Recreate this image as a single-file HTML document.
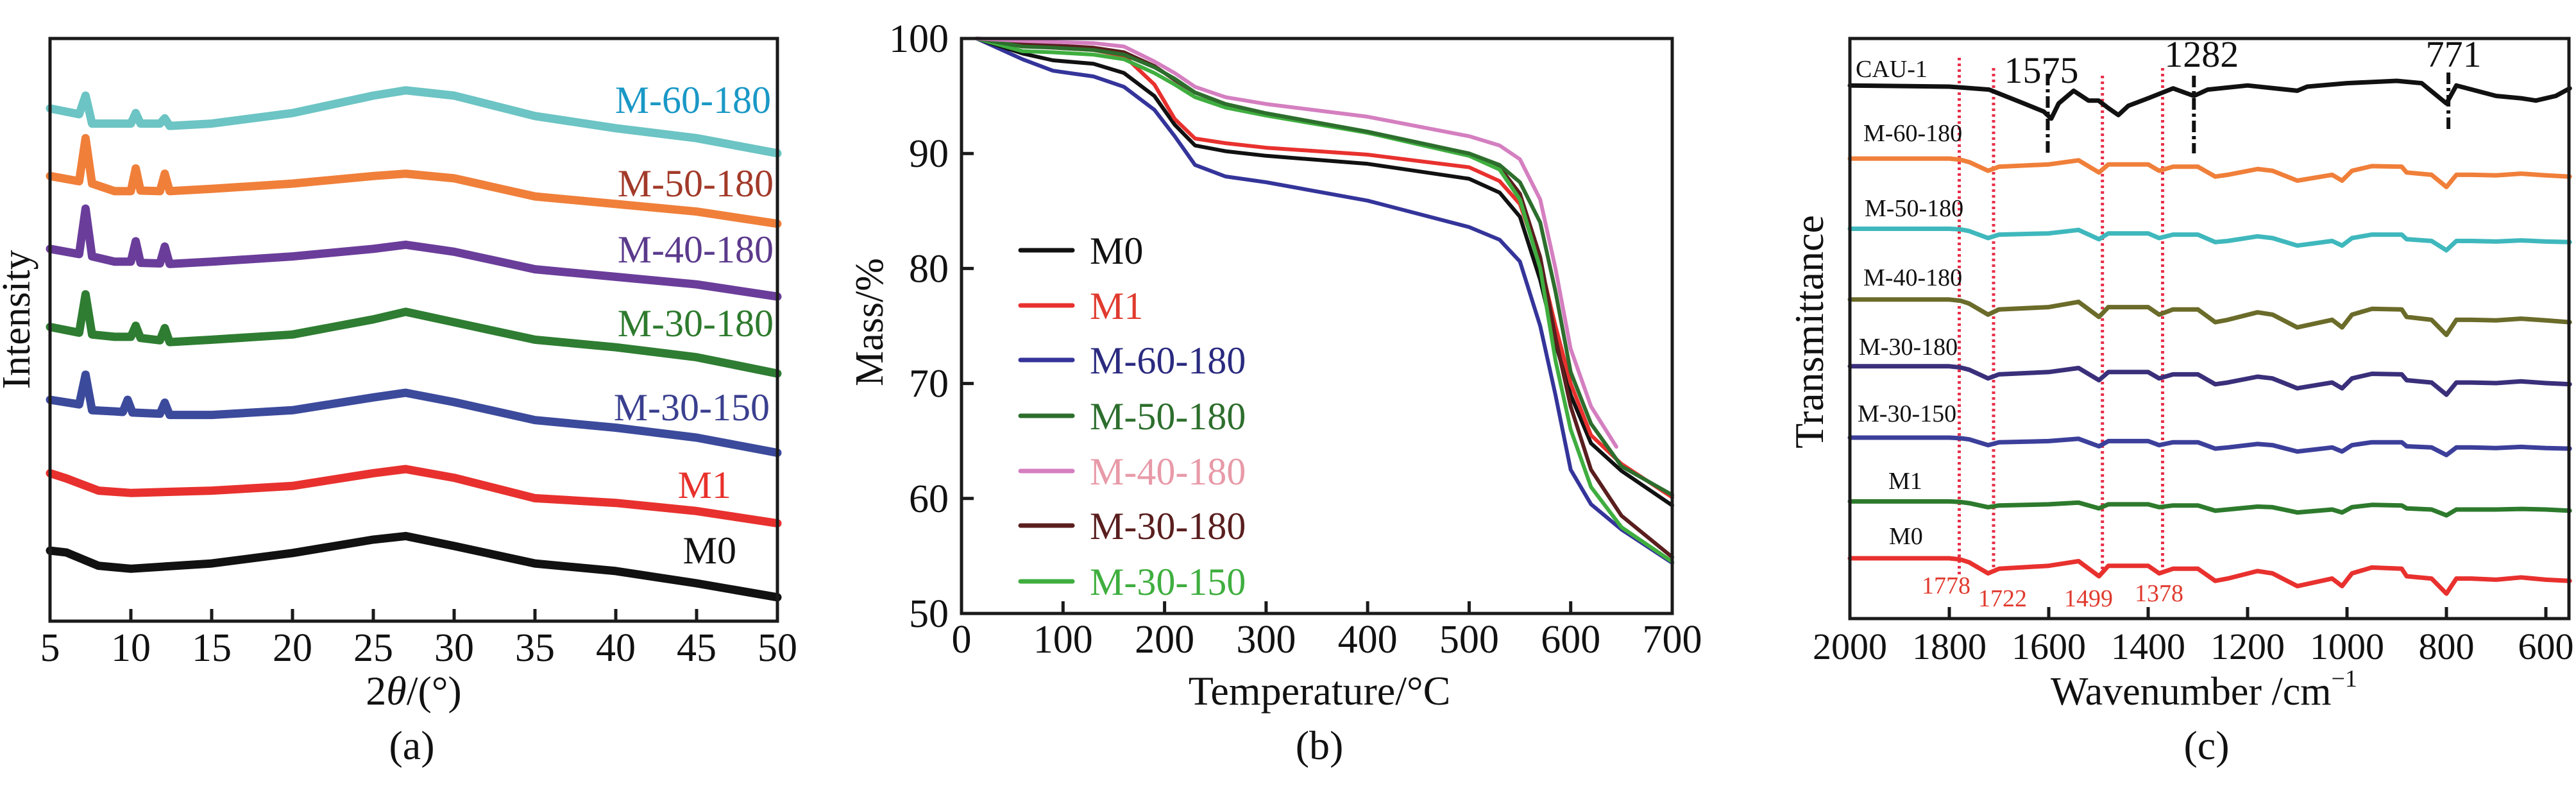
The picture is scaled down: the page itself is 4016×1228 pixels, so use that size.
<!DOCTYPE html>
<html><head><meta charset="utf-8"><style>
html,body{margin:0;padding:0;background:#fff;}
svg{display:block;font-family:"Liberation Serif","Times New Roman",serif;}
svg text{font-family:"Liberation Serif","Times New Roman",serif;}
</style></head><body>
<svg id="fig" xmlns="http://www.w3.org/2000/svg" width="4016" height="1228" viewBox="0 0 4016 1228" font-family="Liberation Serif, serif"></svg>
<script>
// ===== Panel (a) XRD data =====
const xrdXPeak = [5,6.8,7.2,7.6,9,10.0,10.3,10.6,11.8,12.1,12.4,15,20,25,27,30,35,40,45,50];
const xrdXBlue = [5,6.8,7.2,7.6,9,9.5,9.8,10.1,11.8,12.1,12.4,15,20,25,27,30,35,40,45,50];
const xrdXPlain = [5,6,8,10,15,20,25,27,30,35,40,45,50];
const xrdM60 = [88.0,87.0,90.2,85.4,85.4,85.4,87.2,85.4,85.4,86.3,85.0,85.4,87.2,90.2,91.1,90.2,86.7,84.6,82.9,80.3];
const xrdM50 = [76.4,75.5,82.9,75.1,73.8,73.8,77.7,73.9,73.8,76.8,73.8,74.2,75.1,76.4,76.8,76.0,72.9,71.6,70.3,68.2];
const xrdM40 = [63.9,63.0,70.8,62.6,61.7,61.7,65.2,61.5,61.4,64.3,61.3,61.7,62.6,63.9,64.6,63.4,60.4,59.1,57.8,55.7];
const xrdM30 = [50.5,49.5,56.1,49.2,48.8,48.8,50.7,48.6,48.2,50.3,47.9,48.3,49.2,51.8,53.1,51.3,48.3,47.0,45.3,42.5];
const xrdM30150 = [38.0,37.2,42.3,36.2,36.0,35.9,38.0,35.8,35.6,37.5,35.4,35.4,36.2,38.4,39.2,37.6,34.5,33.2,31.5,28.9];
const xrdM1 = [25.4,24.5,22.4,22.0,22.4,23.2,25.4,26.1,24.6,21.1,20.3,18.9,16.8];
const xrdM0 = [12.1,11.8,9.5,9.0,9.9,11.7,14.0,14.6,12.9,9.9,8.6,6.5,4.1];
const xrdTicks = [5,10,15,20,25,30,35,40,45,50];

// ===== Panel (b) TGA data =====
const tgaT = [15,60,90,130,160,190,210,230,260,300,400,500,530,550,570,585,600,620,650,700];
const tgaTPink = [15,60,90,130,160,190,210,230,260,300,400,500,530,550,570,585,600,620,645];
const tgaM0 = [100,98.7,98.1,97.8,97,95,92.5,90.7,90.2,89.8,89.1,87.8,86.6,84.5,79,73.5,69,64.8,62.4,59.4];
const tgaM1 = [100,99.4,99.2,99,98.5,96,93,91.3,90.9,90.5,89.9,88.8,87.6,85.6,80.5,75,70,65.5,63,60.1];
const tgaM60 = [100,98.2,97.2,96.7,95.8,93.8,91.5,89,88,87.5,85.9,83.6,82.5,80.6,75,69,62.5,59.5,57.3,54.4];
const tgaM50 = [100,99.3,99.2,99,98.6,97.5,96.5,95.3,94.3,93.5,91.9,90,89,87.5,84,78,71,66.5,62.8,60.3];
const tgaM40 = [100,99.8,99.7,99.6,99.3,98,97,95.8,94.9,94.3,93.2,91.5,90.7,89.5,86,80,73,68,64.5];
const tgaM30180 = [100,99.5,99.4,99.2,98.8,97.6,96.4,95.3,94.3,93.4,91.8,90,88.8,86.5,81,74,68,62.5,58.5,54.9];
const tgaM30150 = [100,98.9,98.8,98.6,98.2,97,96,94.9,94,93.3,91.8,89.8,88.6,86,80,72,66,61,57.5,54.5];
const tgaXTicks = [0,100,200,300,400,500,600,700];
const tgaYTicks = [50,60,70,80,90,100];

// ===== Panel (c) FTIR data =====
const irWn = [2000,1800,1778,1760,1722,1700,1600,1540,1499,1480,1400,1378,1350,1300,1265,1240,1180,1150,1100,1030,1010,990,950,890,880,830,800,780,750,700,650,600,552];
const irWnCau = [2000,1800,1720,1650,1610,1595,1580,1550,1520,1500,1480,1460,1440,1400,1350,1308,1280,1200,1100,1080,1000,900,850,800,780,700,650,620,580,552];
const irCau = [91.9,91.7,91.2,88.8,87.4,86.2,88.8,91.0,89.3,89.3,88.0,86.8,88.4,89.7,91.4,90.1,91.2,91.9,91.0,91.7,92.3,92.7,92.3,88.8,91.9,90.1,89.7,89.3,90.1,91.4];
const irM60 = [79.3,79.3,79.1,78.7,77.2,77.9,78.3,79.0,76.9,78.3,78.3,77.2,77.9,77.9,76.2,76.5,77.5,77.2,75.5,76.5,75.5,77.2,78.0,77.9,76.9,76.5,74.4,76.5,76.5,76.4,76.7,76.4,76.2];
const irM50 = [67.2,67.2,67.1,66.8,65.6,66.2,66.4,67.0,65.4,66.4,66.4,65.6,66.2,66.2,64.9,65.1,65.9,65.6,64.3,65.1,64.3,65.6,66.2,66.2,65.4,65.1,63.5,65.1,65.1,65.0,65.2,65.0,64.9];
const irM40 = [55.0,55.0,54.8,54.3,52.4,53.3,53.7,54.6,52.0,53.7,53.7,52.4,53.3,53.3,51.1,51.5,52.8,52.4,50.2,51.5,50.2,52.4,53.4,53.3,52.0,51.5,48.9,51.5,51.5,51.4,51.7,51.4,51.1];
const irM30180 = [43.5,43.5,43.3,42.9,41.4,42.1,42.5,43.2,41.1,42.5,42.5,41.4,42.1,42.1,40.4,40.7,41.7,41.4,39.7,40.7,39.7,41.4,42.2,42.1,41.1,40.7,38.6,40.7,40.7,40.6,40.9,40.6,40.4];
const irM30150 = [31.2,31.2,31.1,30.9,29.9,30.4,30.6,31.0,29.7,30.6,30.6,29.9,30.4,30.4,29.3,29.5,30.1,29.9,28.8,29.5,28.8,29.9,30.4,30.4,29.7,29.5,28.2,29.5,29.5,29.4,29.6,29.4,29.3];
const irM1 = [20.2,20.2,20.1,19.9,19.2,19.5,19.7,20.0,19.0,19.7,19.7,19.2,19.5,19.5,18.6,18.8,19.3,19.2,18.3,18.8,18.3,19.2,19.6,19.5,19.0,18.8,17.8,18.8,18.8,18.8,18.9,18.8,18.6];
const irM0 = [10.4,10.4,10.2,9.7,7.8,8.6,9.1,9.9,7.3,9.1,9.1,7.8,8.6,8.6,6.5,6.9,8.2,7.8,5.6,6.9,5.6,7.8,8.8,8.6,7.3,6.9,4.3,6.9,6.9,6.7,7.1,6.7,6.5];
const irTicks = [2000,1800,1600,1400,1200,1000,800,600];
const irRedLines = [1780,1711,1492,1371];
const irRedLabels = ["1778","1722","1499","1378"];
const irPeakPos = [1602,1308,796];
const irPeakLabels = ["1575","1282","771"];

const NS = "http://www.w3.org/2000/svg";
const svg = document.getElementById('fig');
const FONT = '"Liberation Serif", "Times New Roman", serif';
function mk(tag, attrs, parent){
  const el = document.createElementNS(NS, tag);
  for (const k in attrs) el.setAttribute(k, attrs[k]);
  (parent||svg).appendChild(el);
  return el;
}
function txt(str, attrs, parent){
  const el = mk('text', attrs, parent);
  el.style.fontFamily = FONT;
  el.textContent = str;
  return el;
}
function linePath(xs, ys, fx, fy){
  let d = '';
  for (let i=0;i<xs.length;i++){ d += (i?'L':'M') + fx(xs[i]).toFixed(1) + ' ' + fy(ys[i]).toFixed(1); }
  return d;
}

// ---------- Panel a ----------
const aL=78, aR=1212, aT=60, aB=968;
const ax = v => aL + (v-5)/45*(aR-aL);
const ay = v => aB - v/100*(aB-aT);
const gA = mk('g',{});


const aSeries = [
  [xrdXPeak, xrdM60, '#6cc4c4','xrd-m-60-180'],
  [xrdXPeak, xrdM50, '#f07f3a','xrd-m-50-180'],
  [xrdXPeak, xrdM40, '#6a3d9a','xrd-m-40-180'],
  [xrdXPeak, xrdM30, '#2e7d32','xrd-m-30-180'],
  [xrdXBlue, xrdM30150, '#3c4a9c','xrd-m-30-150'],
  [xrdXPlain, xrdM1, '#e8312e','xrd-m1'],
  [xrdXPlain, xrdM0, '#111111','xrd-m0']
];
aSeries.forEach(s=>{
  const p = mk('path',{d:linePath(s[0],s[1],ax,ay),fill:'none',stroke:s[2],'stroke-width':13,'stroke-linejoin':'round','stroke-linecap':'round'},gA);
  
  
});
const aFrame = mk('rect',{x:aL,y:aT,width:aR-aL,height:aB-aT,fill:'none',stroke:'#1a1a1a','stroke-width':5},gA);


xrdTicks.forEach(t=>{
  const tk = mk('line',{x1:ax(t),x2:ax(t),y1:aB,y2:aB-19,stroke:'#1a1a1a','stroke-width':5},gA);
  
  
  const lb = txt(String(t),{x:ax(t),y:1030,'font-size':62,'text-anchor':'middle',fill:'#111'},gA);
  
  
});
const aLabels = [
  ['M-60-180',1202,176,'#1a98c6'],['M-50-180',1206,306,'#a23a2a'],['M-40-180',1206,409,'#5b3a8c'],
  ['M-30-180',1206,524,'#2e7a2e'],['M-30-150',1200,655,'#3a3f8f'],['M1',1140,776,'#e8302b'],['M0',1148,878,'#111']
];
aLabels.forEach(l=>{
  const t = txt(l[0],{x:l[1],y:l[2],'font-size':60,'text-anchor':'end',fill:l[3]},gA);
  
  
});
const aYT = txt('Intensity',{x:0,y:0,'font-size':62,'text-anchor':'middle',transform:'translate(46,498) rotate(-90)',fill:'#111'},gA);


const aXT = mk('text',{x:645,y:1098,'font-size':64,'text-anchor':'middle',fill:'#111'},gA);
aXT.style.fontFamily = FONT;
aXT.innerHTML = '2<tspan font-style="italic">θ</tspan>/(°)';


const aCap = txt('(a)',{x:642,y:1183,'font-size':64,'text-anchor':'middle',fill:'#111'},gA);



// ---------- Panel b ----------
const bL=1499, bR=2607, bT=60, bB=956;
const bx = v => bL + v/700*(bR-bL);
const by = v => bB - (v-50)/50*(bB-bT);
const gB = mk('g',{});


const bSeries = [
  [tgaT, tgaM60,'#34349a','tga-m-60-180'],
  [tgaT, tgaM0,'#111111','tga-m0'],
  [tgaT, tgaM1,'#e8312e','tga-m1'],
  [tgaT, tgaM30180,'#5a1e1e','tga-m-30-180'],
  [tgaT, tgaM30150,'#3fae3f','tga-m-30-150'],
  [tgaT, tgaM50,'#2d6e2d','tga-m-50-180'],
  [tgaTPink, tgaM40,'#d47fc0','tga-m-40-180']
];
bSeries.forEach(s=>{
  const p = mk('path',{d:linePath(s[0],s[1],bx,by),fill:'none',stroke:s[2],'stroke-width':6,'stroke-linejoin':'round','stroke-linecap':'round'},gB);
  
  
});
const bFrame = mk('rect',{x:bL,y:bT,width:bR-bL,height:bB-bT,fill:'none',stroke:'#1a1a1a','stroke-width':5},gB);


tgaXTicks.forEach(t=>{
  const tk = mk('line',{x1:bx(t),x2:bx(t),y1:bB,y2:bB-19,stroke:'#1a1a1a','stroke-width':5},gB);
  
  
  const lb = txt(String(t),{x:bx(t),y:1017,'font-size':62,'text-anchor':'middle',fill:'#111'},gB);
  
  
});
tgaYTicks.forEach(t=>{
  const tk = mk('line',{x1:bL,x2:bL+19,y1:by(t),y2:by(t),stroke:'#1a1a1a','stroke-width':5},gB);
  
  
  const lb = txt(String(t),{x:1479,y:by(t)+21,'font-size':62,'text-anchor':'end',fill:'#111'},gB);
  
  
});
const legItems = [
  ['M0','#111111','#111111',390],['M1','#e8312e','#e03a2e',476],['M-60-180','#34349a','#2a2a80',561],
  ['M-50-180','#2d6e2d','#2d6e2d',648],['M-40-180','#d47fc0','#e89aa8',734],['M-30-180','#5a1e1e','#5a1e1e',819],['M-30-150','#3fae3f','#3fae3f',906]
];
legItems.forEach(l=>{
  const ln = mk('line',{x1:1591,x2:1672,y1:l[3],y2:l[3],stroke:l[1],'stroke-width':7,'stroke-linecap':'round'},gB);
  
  
  const t = txt(l[0],{x:1699,y:l[3]+21,'font-size':60,fill:l[2]},gB);
  
  
});
const bYT = txt('Mass/%',{x:0,y:0,'font-size':62,'text-anchor':'middle',transform:'translate(1376,502) rotate(-90)',fill:'#111'},gB);


const bXT = txt('Temperature/°C',{x:2057,y:1098,'font-size':64,'text-anchor':'middle',fill:'#111'},gB);


const bCap = txt('(b)',{x:2057,y:1183,'font-size':64,'text-anchor':'middle',fill:'#111'},gB);



// ---------- Panel c ----------
const cL=2884, cR=4005, cT=60, cB=964;
const cx = v => cL + (2000-v)*0.775;
const cy = v => cB - v/100*(cB-cT);
const gC = mk('g',{});


irRedLines.forEach((w,i)=>{
  const tops=[90,106,118,106];
  const ln = mk('line',{x1:cx(w),x2:cx(w),y1:tops[i],y2:895,stroke:'#e8304a','stroke-width':5,'stroke-dasharray':'4 5'},gC);
  
  
});
const cSeries = [
  [irWnCau, irCau,'#111111','ir-cau-1'],
  [irWn, irM60,'#f07f3a','ir-m-60-180'],
  [irWn, irM50,'#3fb8bd','ir-m-50-180'],
  [irWn, irM40,'#6b6b2a','ir-m-40-180'],
  [irWn, irM30180,'#3a2f7a','ir-m-30-180'],
  [irWn, irM30150,'#3c3f9a','ir-m-30-150'],
  [irWn, irM1,'#2d7a2d','ir-m1'],
  [irWn, irM0,'#e8312e','ir-m0']
];
cSeries.forEach(s=>{
  const p = mk('path',{d:linePath(s[0],s[1],cx,cy),fill:'none',stroke:s[2],'stroke-width':7,'stroke-linejoin':'round','stroke-linecap':'round'},gC);
  
  
});
const peakYs = [[115,239],[118,239],[113,204]];
const peakLy = [129,104,104];
irPeakPos.forEach((w,i)=>{
  const ln = mk('line',{x1:cx(w),x2:cx(w),y1:peakYs[i][0],y2:peakYs[i][1],stroke:'#111','stroke-width':6,'stroke-dasharray':'18 6 5 6'},gC);
  
  
  const t = txt(irPeakLabels[i],{x:cx(w)+(i==2?8:i==1?12:-10),y:peakLy[i],'font-size':58,'text-anchor':'middle',fill:'#111'},gC);
  
  
});
const redLabPos = [[3034,925],[3122,945],[3256,945],[3366,937]];
irRedLabels.forEach((s,i)=>{
  const t = txt(s,{x:redLabPos[i][0],y:redLabPos[i][1],'font-size':38,'text-anchor':'middle',fill:'#e03a2e'},gC);
  
  
});
const cFrame = mk('rect',{x:cL,y:cT,width:cR-cL,height:cB-cT,fill:'none',stroke:'#1a1a1a','stroke-width':5},gC);


irTicks.forEach(t=>{
  const tk = mk('line',{x1:cx(t),x2:cx(t),y1:cB,y2:cB-18,stroke:'#1a1a1a','stroke-width':5},gC);
  
  
  const lb = txt(String(t),{x:cx(t),y:1027,'font-size':58,'text-anchor':'middle',fill:'#111'},gC);
  
  
});
const cLabels = [['CAU-1',2893,120],['M-60-180',2905,220],['M-50-180',2907,337],['M-40-180',2905,445],['M-30-180',2898,553],['M-30-150',2896,657],['M1',2944,762],['M0',2945,848]];
cLabels.forEach(l=>{
  const t = txt(l[0],{x:l[1],y:l[2],'font-size':38,fill:'#111'},gC);
  
  
});
const cYT = txt('Transmittance',{x:0,y:0,'font-size':64,'text-anchor':'middle',transform:'translate(2842,517) rotate(-90)',fill:'#111'},gC);


const cXT = mk('text',{x:3436,y:1098,'font-size':62,'text-anchor':'middle',fill:'#111'},gC);
cXT.style.fontFamily = FONT;
cXT.innerHTML = 'Wavenumber /cm<tspan font-size="38" dy="-28">−1</tspan>';


const cCap = txt('(c)',{x:3440,y:1183,'font-size':64,'text-anchor':'middle',fill:'#111'},gC);


</script>
</body></html>
